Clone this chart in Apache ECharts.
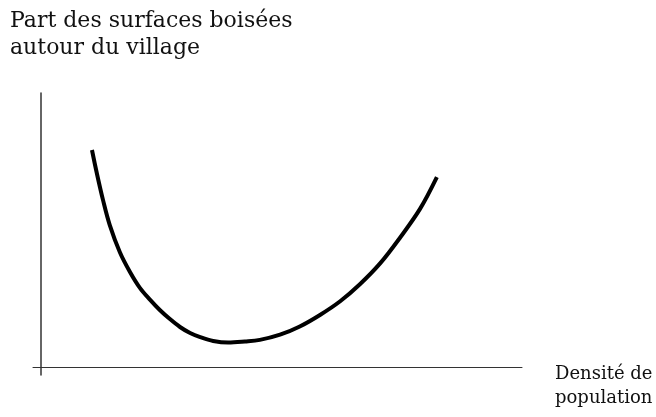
<!DOCTYPE html>
<html>
<head>
<meta charset="utf-8">
<script src="https://cdn.jsdelivr.net/npm/echarts@6/dist/echarts.min.js"></script>
<style>
  html, body { margin: 0; padding: 0; background: #fff; }
  #chart { width: 656px; height: 417px; }
</style>
</head>
<body>
<div id="chart"></div>
<script>
// Schematic U-curve: share of wooded land vs. population density
const yAxisTitle = 'Part des surfaces boisées\nautour du village';
const xAxisTitle = 'Densité de\npopulation';

// density (arbitrary units 0–100)
const density = [10.6, 11.6, 12.9, 14.3, 16.4, 18.5, 20.6, 22.7, 24.7, 26.8, 28.9, 31.0, 33.1,
  35.8, 38.9, 42.4, 45.5, 49.7, 53.8, 58.0, 62.2, 66.3, 70.5, 74.6, 78.8, 82.3];
// wooded share (arbitrary units 0–100)
const wooded = [79.2, 70.8, 60.9, 51.8, 41.9, 34.7, 28.8, 24.5, 20.8, 17.5, 14.6, 12.4, 10.9,
  9.5, 8.9, 9.3, 9.9, 11.8, 14.8, 19.0, 24.0, 30.2, 37.8, 47.1, 57.7, 69.3];

const chart = echarts.init(document.getElementById('chart'), null, { renderer: 'canvas' });

chart.setOption({
  animation: false,
  backgroundColor: '#ffffff',
  grid: { left: 33, right: 134, top: 93, bottom: 42, containLabel: false },
  xAxis: {
    type: 'value', min: -1.66, max: 100,
    axisLine: { show: true, onZero: true, lineStyle: { color: '#333', width: 1 } },
    axisTick: { show: false }, axisLabel: { show: false }, splitLine: { show: false }
  },
  yAxis: {
    type: 'value', min: -2.92, max: 100,
    axisLine: { show: true, onZero: true, lineStyle: { color: '#333', width: 1.5 } },
    axisTick: { show: false }, axisLabel: { show: false }, splitLine: { show: false }
  },
  graphic: [
    {
      type: 'text', left: 10, top: 8,
      style: { text: yAxisTitle, font: '22px "DejaVu Serif"', lineHeight: 27, fill: '#111' }
    },
    {
      type: 'text', left: 555, top: 362,
      style: { text: xAxisTitle, font: '18px "DejaVu Serif"', lineHeight: 24, fill: '#111' }
    }
  ],
  series: [{
    type: 'line',
    data: density.map((d, i) => [d, wooded[i]]),
    smooth: 0.35,
    showSymbol: false,
    lineStyle: { color: '#000', width: 4 }
  }]
});
</script>
</body>
</html>
